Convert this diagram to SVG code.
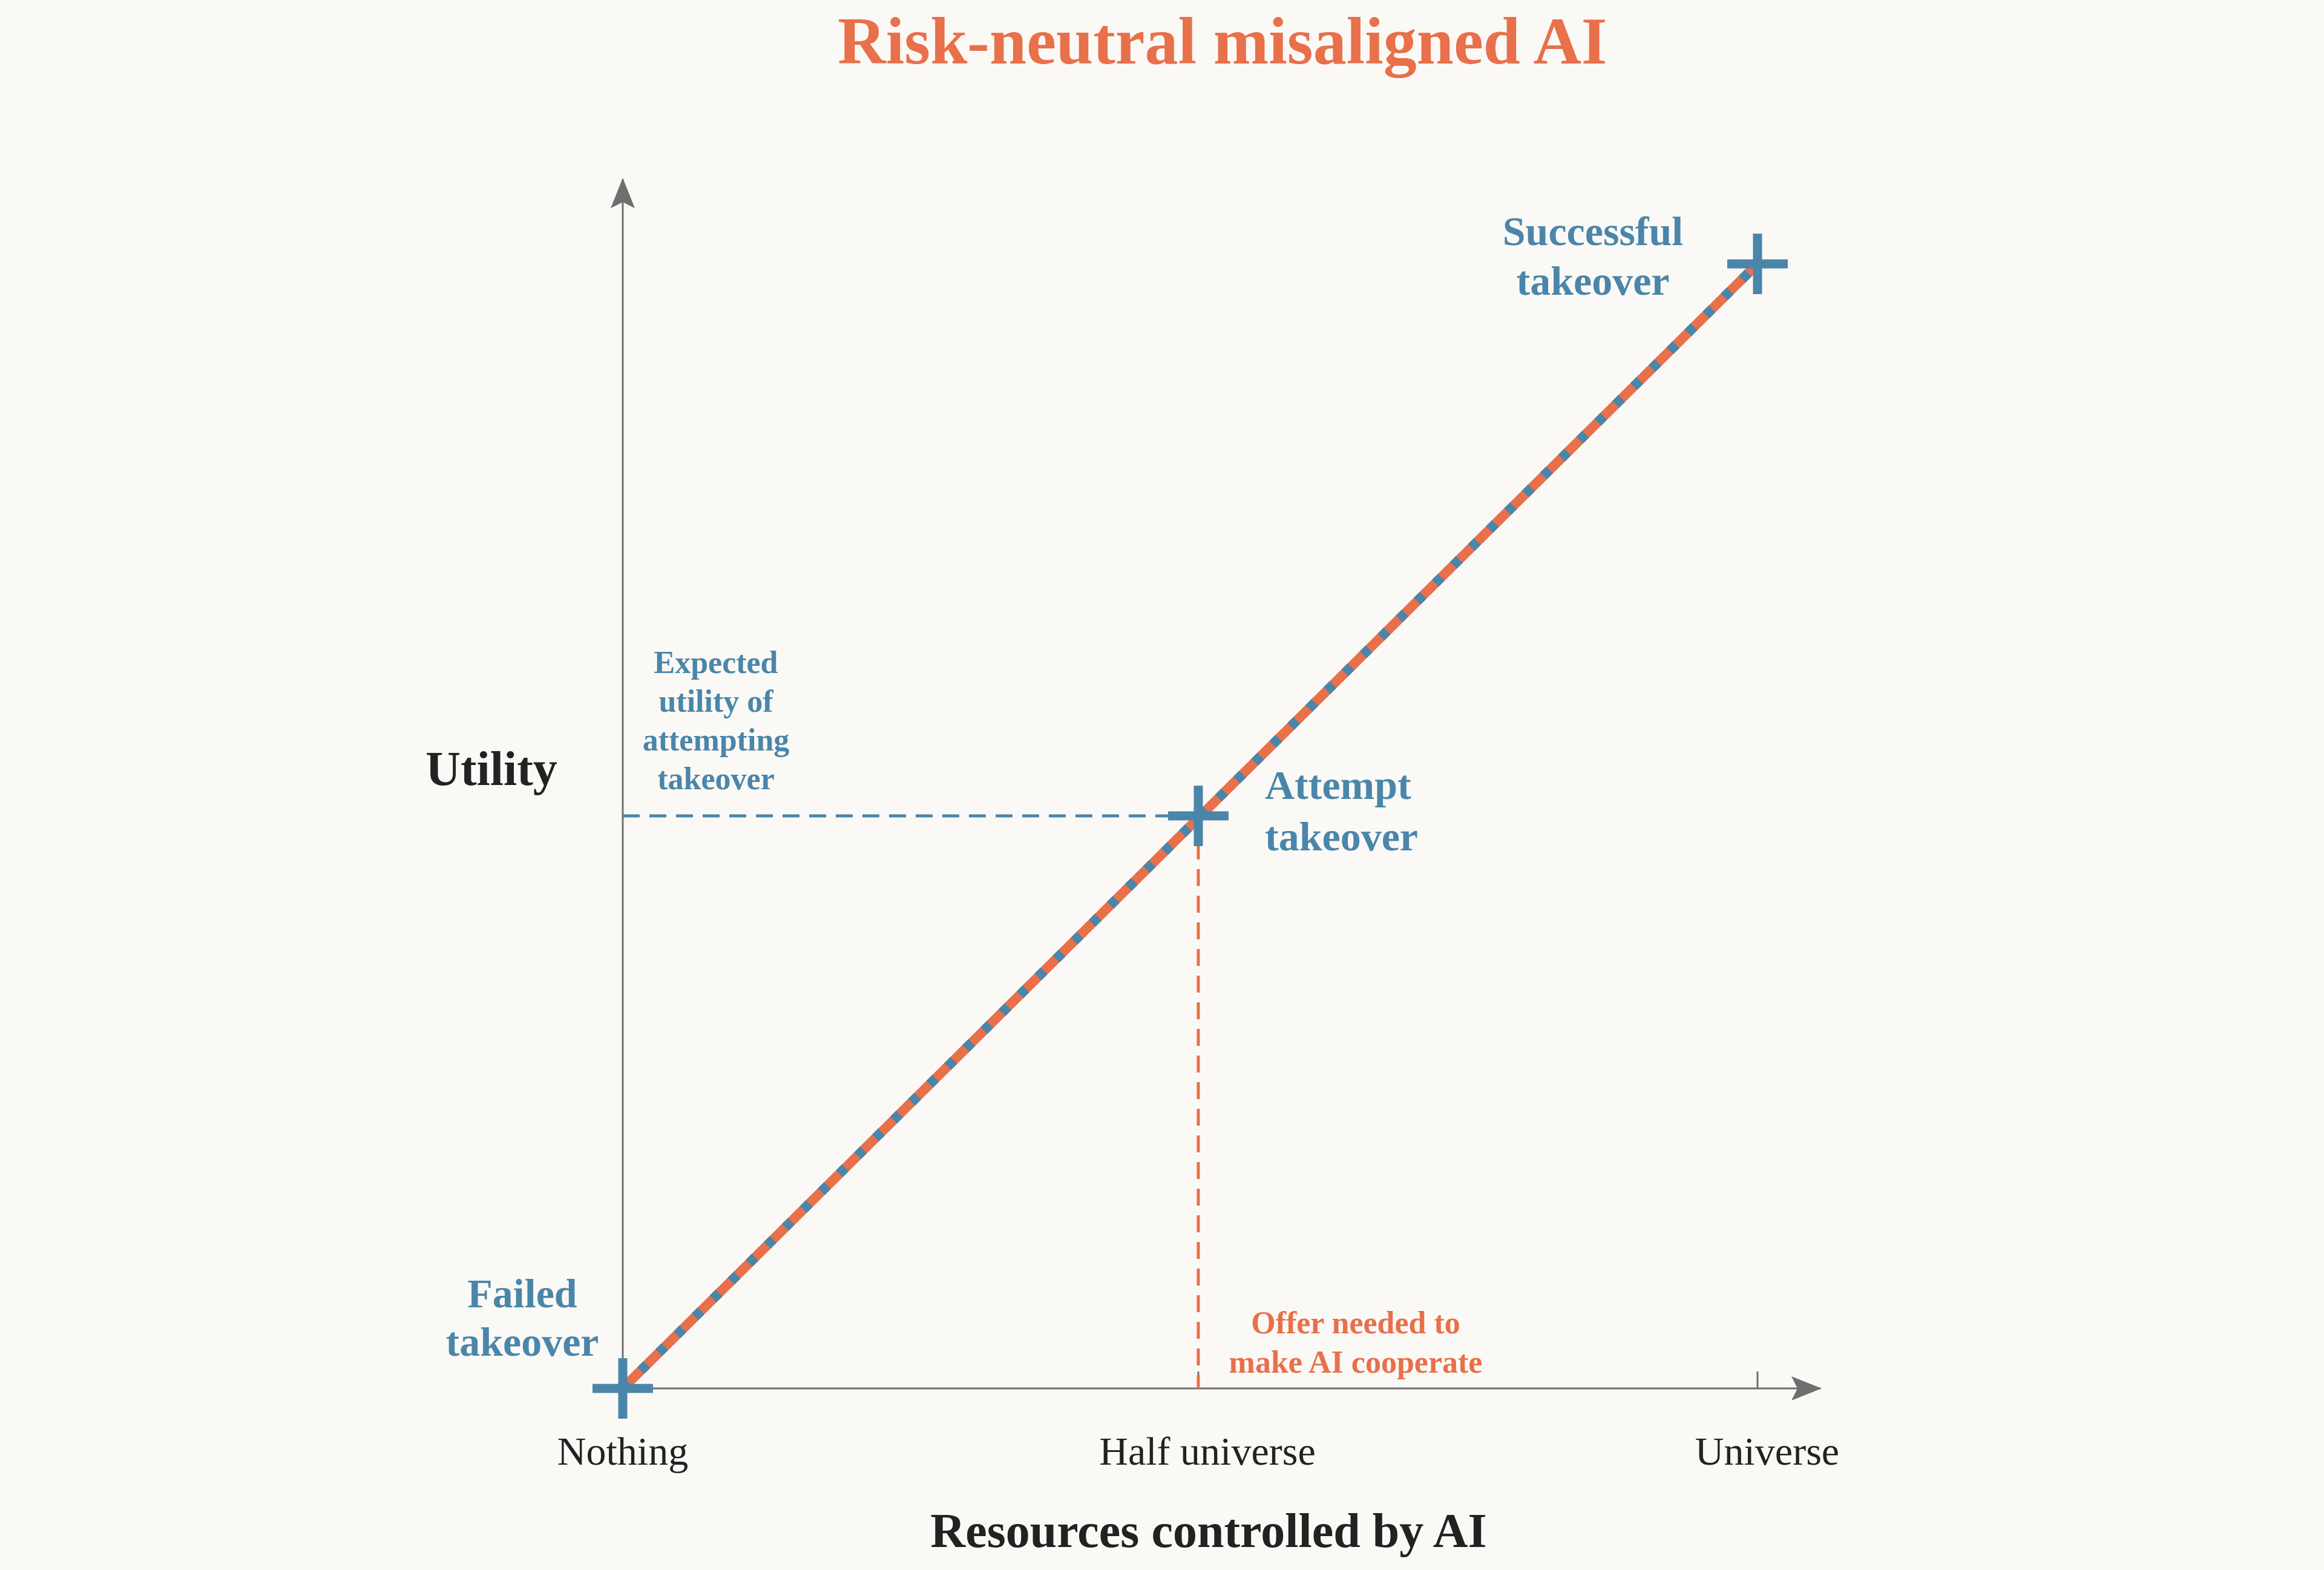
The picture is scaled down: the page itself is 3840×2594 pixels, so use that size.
<svg xmlns="http://www.w3.org/2000/svg" width="3840" height="2594" viewBox="0 0 3840 2594">
<defs>
<marker id="ah" markerWidth="50" markerHeight="40" refX="48" refY="20" orient="auto" markerUnits="userSpaceOnUse" viewBox="0 0 50 40"><path d="M0,0 L50,20 L0,40 L10,20 Z" fill="#6f6f6f"/></marker>
<style>
text{font-family:"Liberation Serif","DejaVu Serif",serif}
.blue{fill:#4A86AA;font-weight:bold}
.or{fill:#E8704A;font-weight:bold}
.ax{stroke:#6f6f6f;stroke-width:3;fill:none}
.cross{stroke:#4A86AA;stroke-width:15;stroke-linecap:butt}
.tick{fill:#222;font-size:66px}
</style>
</defs>
<rect width="3840" height="2594" fill="#FBF9F6"/>
<text x="2020" y="105" text-anchor="middle" class="or" font-size="110">Risk-neutral misaligned AI</text>
<g id="connectors">
<line class="ax" x1="1029" y1="2294" x2="1029" y2="296" marker-end="url(#ah)"/>
<line class="ax" x1="1029" y1="2294" x2="3008" y2="2294" marker-end="url(#ah)"/>
<line class="ax" x1="1980" y1="2294" x2="1980" y2="2266"/>
<line class="ax" x1="2904" y1="2294" x2="2904" y2="2266"/>
<line x1="1029" y1="1348" x2="1980" y2="1348" stroke="#4A86AA" stroke-width="5" stroke-dasharray="28 16"/>
<line x1="1980" y1="1348" x2="1980" y2="2294" stroke="#E8704A" stroke-width="5" stroke-dasharray="28 16"/>
<line x1="1029" y1="2294" x2="2904" y2="436" stroke="#E8704A" stroke-width="16"/>
<line x1="1029" y1="2294" x2="2904" y2="436" stroke="#4A86AA" stroke-width="16" stroke-dasharray="14 28"/>
</g>
<g id="failed"><path class="cross" d="M979 2294 H1079 M1029 2244 V2344"/>
<text class="blue" font-size="68" text-anchor="middle"><tspan x="863" y="2160">Failed</tspan><tspan x="863" y="2240">takeover</tspan></text></g>
<g id="attempt"><path class="cross" d="M1930 1348 H2030 M1980 1298 V1398"/>
<text class="blue" font-size="68"><tspan x="2090" y="1320">Attempt</tspan><tspan x="2090" y="1405">takeover</tspan></text></g>
<g id="success"><path class="cross" d="M2854 436 H2954 M2904 386 V486"/>
<text class="blue" font-size="68" text-anchor="middle"><tspan x="2632" y="405">Successful</tspan><tspan x="2632" y="487">takeover</tspan></text></g>
<g id="expected"><text class="blue" font-size="52" text-anchor="middle"><tspan x="1183" y="1112">Expected</tspan><tspan x="1183" y="1176">utility of</tspan><tspan x="1183" y="1240">attempting</tspan><tspan x="1183" y="1304">takeover</tspan></text></g>
<g id="offer"><text class="or" font-size="52" text-anchor="middle"><tspan x="2240" y="2203">Offer needed to</tspan><tspan x="2240" y="2268">make AI cooperate</tspan></text></g>
<text x="812" y="1297" font-size="80" font-weight="bold" text-anchor="middle" fill="#222">Utility</text>
<text class="tick" x="1029" y="2420" text-anchor="middle">Nothing</text>
<text class="tick" x="1995" y="2420" text-anchor="middle">Half universe</text>
<text class="tick" x="2920" y="2420" text-anchor="middle">Universe</text>
<text x="1997" y="2556" font-size="80" font-weight="bold" text-anchor="middle" fill="#222">Resources controlled by AI</text>
</svg>
